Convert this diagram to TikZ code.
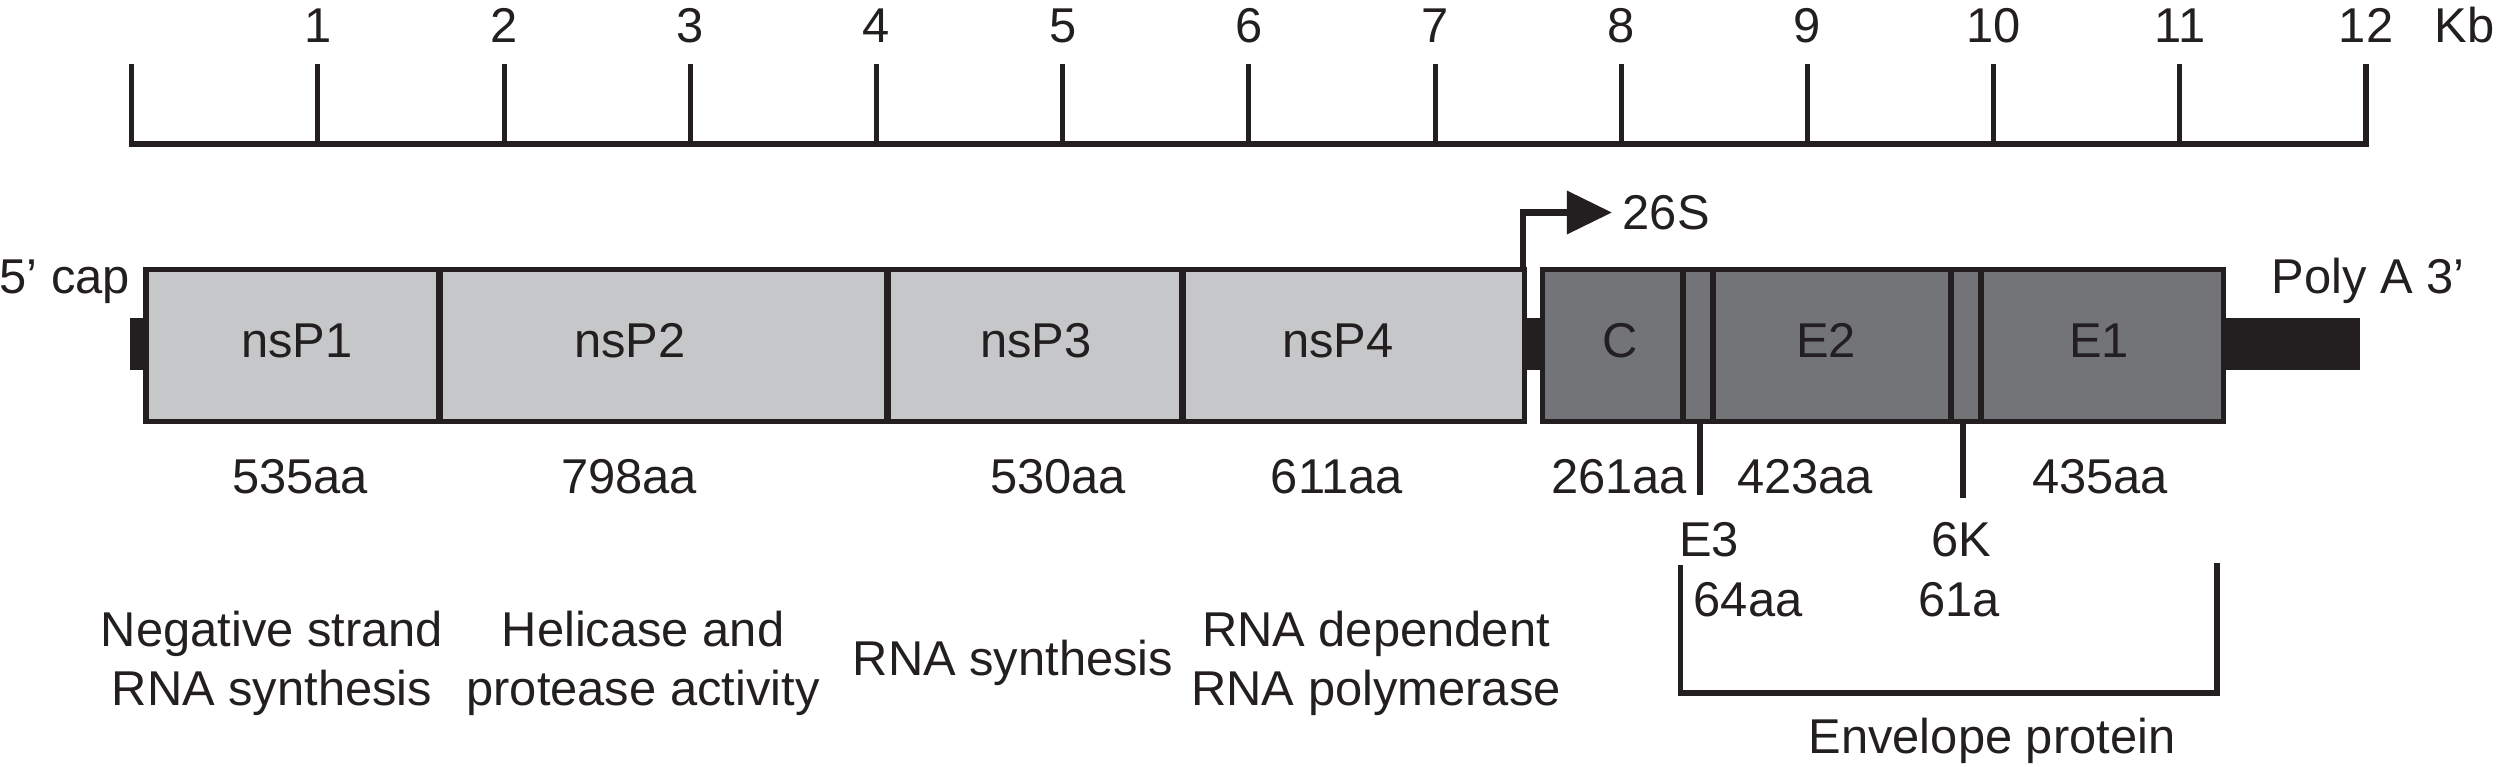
\documentclass[tikz,border=0pt]{standalone}
\usepackage{fontspec}
\setmainfont{Liberation Sans}
\usetikzlibrary{arrows.meta}
\definecolor{ink}{HTML}{231F20}
\definecolor{nsgray}{HTML}{C6C7C9}
\definecolor{sgray}{HTML}{737478}
\tikzset{
    lbl/.style={font=\fontsize{13.9}{16.5}\selectfont, text=ink, inner sep=0pt, anchor=base},
    multi/.style={lbl, align=center},
    ruler/.style={draw=ink, line width=0.055cm},
    tickmark/.style={draw=ink, line width=0.05cm},
    segbox/.style={draw=ink, line width=0.05cm},
    divider/.style={draw=ink, line width=0.065cm},
    tail/.style={fill=ink},
    cleave/.style={draw=ink, line width=0.055cm},
    bracket/.style={draw=ink, line width=0.055cm},
    promoter/.style={draw=ink, line width=0.065cm, -{Triangle[length=0.45cm,width=0.42cm]}}
}
\begin{document}
\begin{tikzpicture}[x=0.01cm, y=-0.01cm]
        \useasboundingbox (0,0) rectangle (2496,766);

        \draw[ruler] (131.6,64) -- (131.6,144) -- (2366,144) -- (2366,64);
        \foreach \k in {1,...,11}
            \draw[tickmark] ({131.6+186.2*\k},64) -- ({131.6+186.2*\k},144);
        \foreach \k in {1,...,12}
            \node[lbl] (kb\k) at ({131.6+186.2*\k},42) {\k};
        \node[lbl, anchor=base west] (kb) at (2434,42) {Kb};

        \fill[tail] (130,318) rectangle (146,370);
        \fill[tail] (1524,318) rectangle (1542.5,370);
        \fill[tail] (2223,318) rectangle (2360,370);
        \filldraw[segbox, fill=nsgray] (146,269) rectangle (1524,421);
        \filldraw[segbox, fill=sgray] (1542.5,269) rectangle (2223,421);
        \foreach \x in {439.4,887.6,1182.6,1683,1713,1951,1981}
            \draw[divider] (\x,269) -- (\x,421);

        \node[lbl, anchor=base west] (cap) at (-1,293) {5’ cap};
        \node[lbl, anchor=base west] (polya) at (2271,293) {Poly A 3’};

        \node[lbl] (nsp1) at (297,357) {nsP1};
        \node[lbl] (nsp2) at (630,357) {nsP2};
        \node[lbl] (nsp3) at (1036,357) {nsP3};
        \node[lbl] (nsp4) at (1338,357) {nsP4};
        \node[lbl] (capsid) at (1620,357) {C};
        \node[lbl] (e2) at (1826,357) {E2};
        \node[lbl] (e1) at (2099,357) {E1};

        \coordinate (prom) at (1523,267);
        \node[lbl, anchor=west, inner sep=0.1cm] (s26) at (1612,212.5) {26S};
        \draw[promoter] (prom) |- (s26.west);

        \node[lbl] (aa535) at (300,493) {535aa};
        \node[lbl] (aa798) at (629,493) {798aa};
        \node[lbl] (aa530) at (1058,493) {530aa};
        \node[lbl] (aa611) at (1337,493) {611aa};
        \node[lbl] (aa261) at (1619,493) {261aa};
        \node[lbl] (aa423) at (1805,493) {423aa};
        \node[lbl] (aa435) at (2100,493) {435aa};

        \coordinate (e3top) at (1700,421);
        \coordinate (e3bot) at (1700,495);
        \coordinate (k6top) at (1963,421);
        \coordinate (k6bot) at (1963,498);
        \draw[cleave] (e3top) -- (e3bot);
        \draw[cleave] (k6top) -- (k6bot);

        \node[lbl] (e3) at (1709,556) {E3};
        \node[lbl] (k6) at (1961,556) {6K};
        \node[lbl] (aa64) at (1748,616) {64aa};
        \node[lbl] (aa61) at (1959,616) {61a};

        \coordinate (envl) at (1680.6,565);
        \coordinate (envr) at (2217,563);
        \coordinate (envb) at (0,693);
        \draw[bracket] (envl) -- (envl |- envb) -- (envr |- envb) -- (envr);
        \node[lbl] (env) at (1992,753) {Envelope protein};

        \node[multi] (fn1) at (272,705) {Negative strand\\RNA synthesis};
        \node[multi] (fn2) at (643,705) {Helicase and\\protease activity};
        \node[lbl] (fn3) at (1013,675) {RNA synthesis};
        \node[multi] (fn4) at (1376,705) {RNA dependent\\RNA polymerase};

    \end{tikzpicture}
\end{document}
